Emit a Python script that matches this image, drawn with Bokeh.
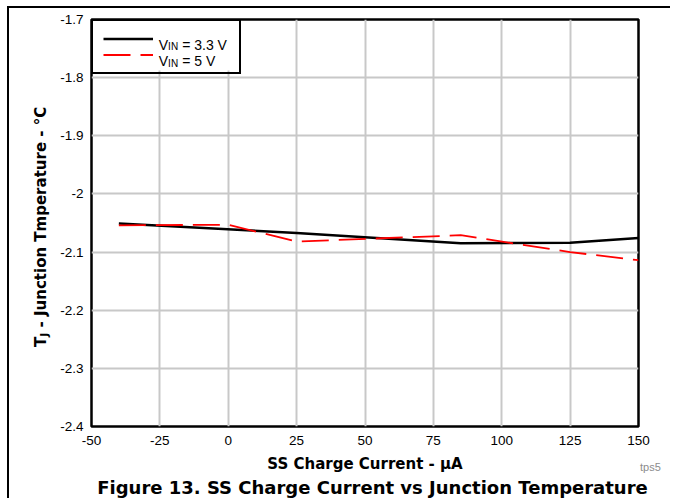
import math
from bokeh.plotting import figure
from bokeh.layouts import column
from bokeh.models import (Range1d, FixedTicker, PrintfTickFormatter, Label,
                          Legend, LegendItem, BoxAnnotation, Div)
from bokeh.embed import file_html
from bokeh.resources import INLINE

# ---- data ----
x_ticks = [-50, -25, 0, 25, 50, 75, 100, 125, 150]
y_ticks = [-2.4, -2.3, -2.2, -2.1, -2.0, -1.9, -1.8, -1.7]
y_tick_labels = ["-2.4", "-2.3", "-2.2", "-2.1", "-2", "-1.9", "-1.8", "-1.7"]

current_33 = [-40, 25, 85, 125, 150]
tj_33 = [-2.051, -2.067, -2.085, -2.084, -2.076]

current_5 = [-40, 0, 25, 85, 125, 150]
tj_5 = [-2.054, -2.053, -2.082, -2.071, -2.100, -2.114]

x_title = "SS Charge Current - µA"
caption = "Figure 13. SS Charge Current vs Junction Temperature"

# ---- figure ----
W, H = 657, 485
FL, FR, FT, FB = 91, 638, 19, 426          # frame edges in canvas pixels
p = figure(width=W, height=H, output_backend="svg", toolbar_location=None,
           x_range=Range1d(-50, 150), y_range=Range1d(-2.4, -1.7),
           min_border_left=FL, min_border_right=W - FR, min_border_top=FT,
           min_border_bottom=H - FB)
p.background_fill_color = "white"
p.border_fill_color = "white"
p.outline_line_color = "black"
p.outline_line_width = 2.5
p.outline_line_alpha = 1.0

for g in (p.xgrid, p.ygrid):
    g.grid_line_color = "#c8c8c8"
    g.grid_line_width = 2
p.xgrid.ticker = FixedTicker(ticks=x_ticks)
p.ygrid.ticker = FixedTicker(ticks=y_ticks)

p.xaxis.ticker = FixedTicker(ticks=x_ticks)
p.xaxis.formatter = PrintfTickFormatter(format="%d")
p.yaxis.ticker = FixedTicker(ticks=y_ticks)
p.yaxis.formatter = PrintfTickFormatter(format="%g")
p.yaxis.major_label_overrides = {v: s for v, s in zip(y_ticks, y_tick_labels)}

for ax in (p.xaxis, p.yaxis):
    ax.axis_line_color = None
    ax.major_tick_out = 0
    ax.major_tick_in = 0
    ax.minor_tick_out = 0
    ax.minor_tick_in = 0
    ax.major_label_text_font = "Liberation Sans"
    ax.major_label_text_font_size = "13.5px"
    ax.major_label_text_color = "black"
p.xaxis.major_label_standoff = 9
p.yaxis.major_label_standoff = 8

p.xaxis.axis_label = x_title
p.xaxis.axis_label_text_font = "DejaVu Sans"
p.xaxis.axis_label_text_font_style = "bold"
p.xaxis.axis_label_text_font_size = "15px"
p.xaxis.axis_label_text_color = "black"
p.xaxis.axis_label_standoff = 7


def dx(px):
    return -50 + (px - FL) * 200 / (FR - FL)


def dy(py):
    return -1.7 - (py - FT) * 0.7 / (FB - FT)


# white box under the legend (hides the grid there)
p.add_layout(BoxAnnotation(left=dx(FL), right=dx(238), top=dy(FT),
                           bottom=dy(70), fill_color="white", fill_alpha=1.0,
                           line_alpha=0, level="underlay"))

# ---- series ----
r33 = p.line(current_33, tj_33, line_color="black", line_width=2.5)
r5 = p.line(current_5, tj_5, line_color="#ff0000", line_width=1.8,
            line_dash="27 10")

legend = Legend(items=[LegendItem(label=" ", renderers=[r33]),
                       LegendItem(label=" ", renderers=[r5])],
                location="top_left", margin=0, padding=10, spacing=1,
                glyph_width=50, glyph_height=15, label_height=15,
                label_width=68, label_standoff=8,
                label_text_font_size="8px",
                border_line_color="black", border_line_width=2,
                border_line_alpha=1.0, background_fill_alpha=0.0)
p.add_layout(legend, "center")


def add_text(px, py, text, size):
    p.add_layout(Label(x=dx(px), y=dy(py), text=text,
                       text_font="Liberation Sans", text_font_size=size,
                       text_align="left", text_baseline="alphabetic",
                       text_color="black"))


# legend texts with subscripts
for base in (44.0, 60.7):
    add_text(158.3, base, "V", "14px")
    add_text(167.6, base + 2, "IN", "10px")
add_text(181.7, 44.0, "= 3.3 V", "14px")
add_text(181.7, 60.7, "= 5 V", "14px")

# ---- texts outside the plot frame, as an HTML overlay ----
bold = "font-family:'DejaVu Sans';font-weight:bold;white-space:nowrap;color:#000;"
html = (
    '<div style="position:absolute;left:7px;top:6px;width:663px;height:2px;'
    'background:#000"></div>'
    '<div style="position:absolute;left:7px;top:6px;width:2px;height:492px;'
    'background:#000"></div>'
    '<div style="position:absolute;left:34px;top:347px;transform:rotate(-90deg);'
    'transform-origin:0 0;font-size:15px;line-height:15px;' + bold + '">'
    'T<sub style="font-size:11px;line-height:0;vertical-align:-2px">J</sub>'
    ' - Junction Tmperature - °C</div>'
    '<div style="position:absolute;left:640px;top:462px;font-family:\'Liberation Sans\';'
    'font-size:11px;line-height:11px;color:#8c8c8c;white-space:nowrap">tps5</div>'
    '<div style="position:absolute;left:88px;top:479px;width:569px;text-align:center;'
    'font-size:18px;line-height:18px;' + bold + '">' + caption + '</div>'
)
div = Div(text=html, width=W, height=H,
          styles={"position": "absolute", "left": "0px", "top": "0px",
                  "z-index": "10", "pointer-events": "none",
                  "overflow": "visible",
                  "width": "%dpx" % W, "height": "%dpx" % H})

if "elements" in p.properties():
    p.elements = [div]
    root = p
else:
    root = column(p, div)

open("out.html", "w").write(file_html(root, INLINE))
